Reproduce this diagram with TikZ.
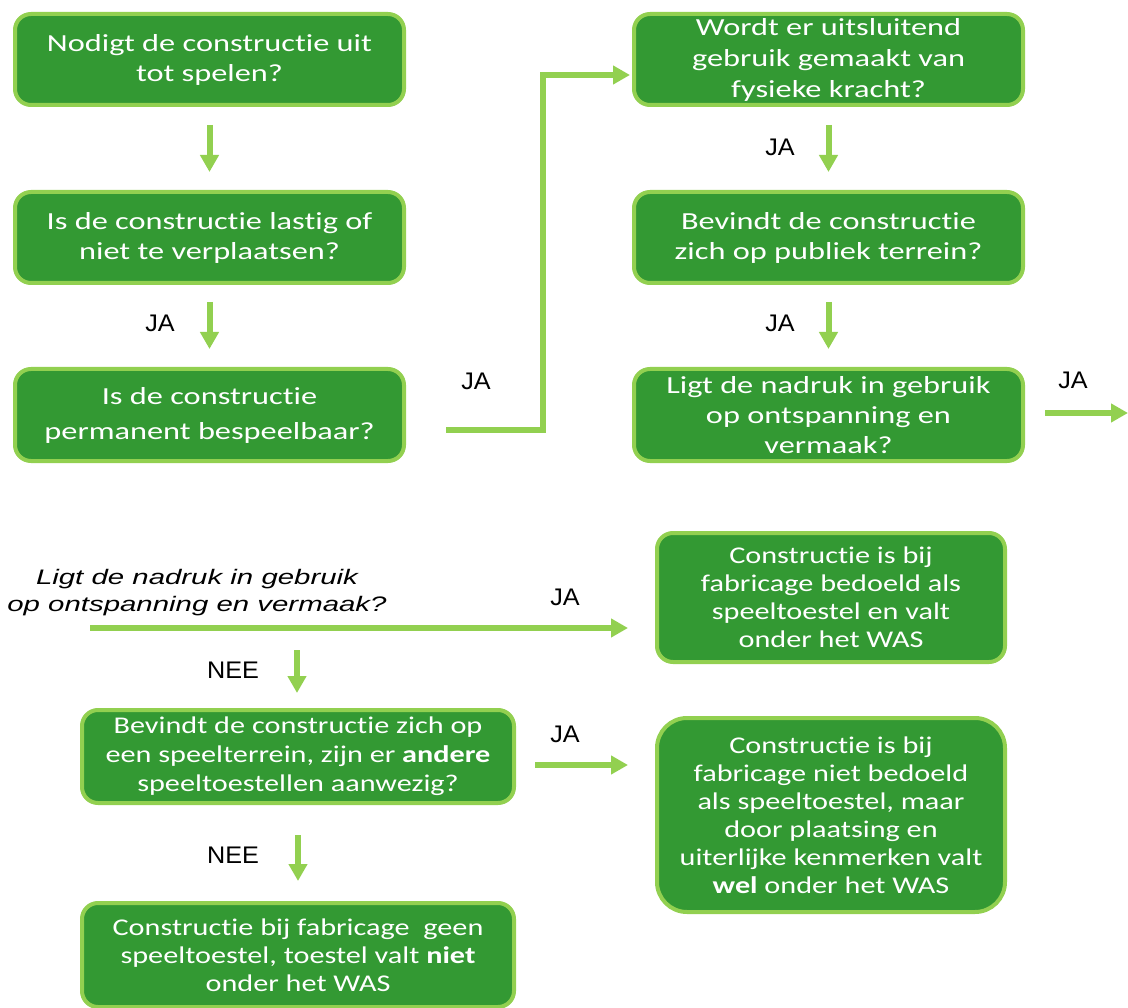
\documentclass[tikz,border=0pt]{standalone}
\usepackage{fontspec}
\setmainfont{Carlito}
\newfontfamily\boxfont[FakeStretch=1.32, Ligatures=NoCommon]{Carlito}
\newfontfamily\boxfontb[FakeStretch=1.26, Ligatures=NoCommon]{Carlito}
\newfontfamily\itfont[FakeStretch=1.4]{Liberation Sans}
\newfontfamily\lblfont[FakeStretch=1.05]{Liberation Sans}
\usetikzlibrary{arrows.meta}
\definecolor{dgreen}{HTML}{339933}
\definecolor{lgreen}{HTML}{92D050}
\tikzset{
  qbox/.style={draw=lgreen, line width=4pt, fill=dgreen, rounded corners=16pt, text=white,
    inner sep=0pt, align=center, font=\boxfont\fontsize{24.5}{30}\selectfont},
  sbox/.style={qbox, font=\boxfontb\fontsize{24}{28}\selectfont},
  flow/.style={draw=lgreen, line width=6pt, -{Triangle[length=17pt,width=18pt]}},
  lbl/.style={font=\lblfont\fontsize{24}{28}\selectfont, text=black, inner sep=0pt},
}
\begin{document}
\begin{tikzpicture}[x=1pt,y=-1pt]
\path[use as bounding box] (0,0) rectangle (1128,1008);
% left column
\node[qbox, minimum width=389pt, minimum height=91pt] (b1) at (209.5,59.5) {Nodigt de constructie uit\\tot spelen?};
\node[qbox, minimum width=389pt, minimum height=91pt] (b2) at (209.5,237.5) {Is de constructie lastig of\\niet te verplaatsen?};
\node[qbox, minimum width=389pt, minimum height=92pt, font=\boxfont\fontsize{24.5}{35}\selectfont] (b3) at (209.5,415) {Is de constructie\\permanent bespeelbaar?};
% right column
\node[qbox, minimum width=389pt, minimum height=91pt, font=\boxfont\fontsize{24.5}{31}\selectfont] (b4) at (828.5,59.5) {Wordt er uitsluitend\\gebruik gemaakt van\\fysieke kracht?};
\node[qbox, minimum width=389pt, minimum height=91pt] (b5) at (828.5,237.5) {Bevindt de constructie\\zich op publiek terrein?};
\node[qbox, minimum width=389pt, minimum height=92pt] (b6) at (828.5,415) {Ligt de nadruk in gebruik\\op ontspanning en\\vermaak?};
% bottom part
\node[font=\itfont\itshape\fontsize{21}{27}\selectfont, align=center, inner sep=0pt] (q) at (197,593) {Ligt de nadruk in gebruik\\op ontspanning en vermaak?};
\node[sbox, minimum width=348pt, minimum height=129pt] (b7) at (831,597.5) {Constructie is bij\\fabricage bedoeld als\\speeltoestel en valt\\onder het WAS};
\node[sbox, minimum width=432pt, minimum height=93pt, font=\boxfontb\fontsize{24}{29}\selectfont] (b8) at (298,756.5) {Bevindt de constructie zich op\\een speelterrein, zijn er \textbf{andere}\\speeltoestellen aanwezig?};
\node[sbox, minimum width=348pt, minimum height=194pt, rounded corners=30pt] (b9) at (831,815) {Constructie is bij\\fabricage niet bedoeld\\als speeltoestel, maar\\door plaatsing en\\uiterlijke kenmerken valt\\\textbf{wel} onder het WAS};
\node[sbox, minimum width=432pt, minimum height=104pt] (b10) at (298,955) {Constructie bij fabricage\ \ geen\\speeltoestel, toestel valt \textbf{niet}\\onder het WAS};
% coordinates
\coordinate (e6) at (1128,413);
\coordinate (qs) at (90,628);
\coordinate (qd) at (297,650);
% connectors
\draw[flow] ([yshift=-18pt]b1.south) -- ([yshift=18pt]b2.north);
\draw[flow] ([yshift=-17pt]b2.south) -- ([yshift=18pt]b3.north);
\draw[flow] ([xshift=40pt,yshift=-15pt]b3.east) -| (543,75) -- ([xshift=-2pt]b4.west |- 0,75);
\draw[flow] ([yshift=-18pt]b4.south) -- ([yshift=18pt]b5.north);
\draw[flow] ([yshift=-17pt]b5.south) -- ([yshift=18pt]b6.north);
\draw[flow] ([xshift=20pt,yshift=2pt]b6.east) -- (e6);
\draw[flow] (qs) -- ([xshift=-27pt]b7.west |- qs);
\draw[flow] (qd) -- ([yshift=15pt]b8.north -| qd);
\draw[flow] ([xshift=19pt,yshift=-8.5pt]b8.east) -- ([xshift=-27pt]b9.west |- 0,765);
\draw[flow] ([yshift=-30pt]b8.south) -- ([yshift=20pt]b10.north);
% labels
\node[lbl] (l2) at (160,323) {JA};
\node[lbl] (l3) at (476,381) {JA};
\node[lbl] (l4) at (780,147) {JA};
\node[lbl] (l5) at (780,323) {JA};
\node[lbl] (l6) at (1073,380) {JA};
\node[lbl] (l7) at (565,597) {JA};
\node[lbl] (l8) at (233,670) {NEE};
\node[lbl] (l9) at (565,734) {JA};
\node[lbl] (l10) at (233,855) {NEE};
\end{tikzpicture}
\end{document}
